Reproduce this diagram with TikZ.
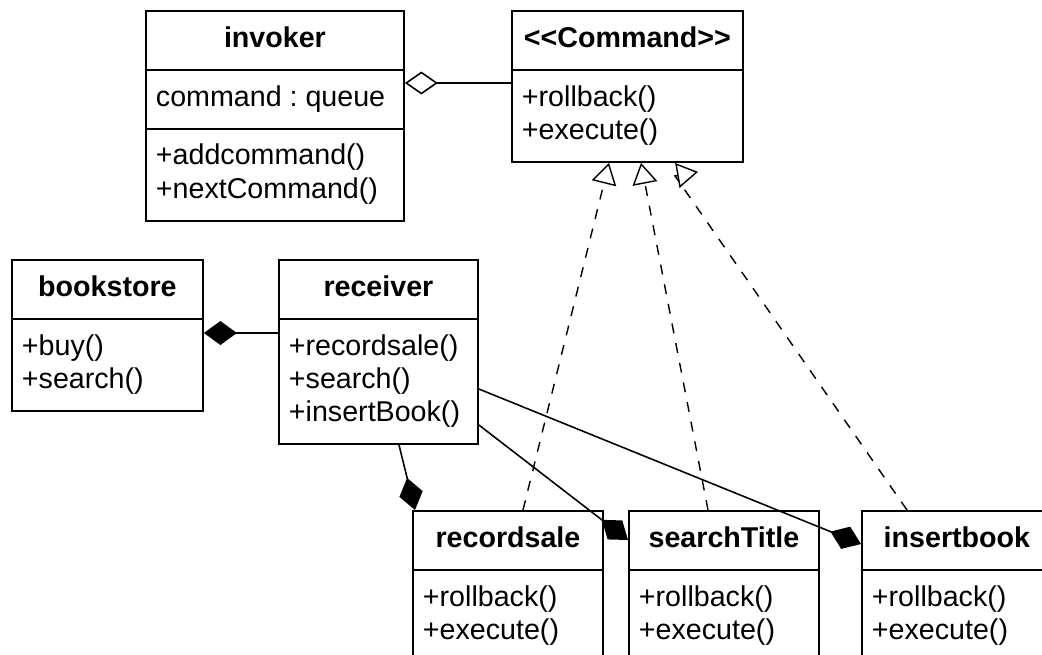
\documentclass[tikz,border=0pt]{standalone}
\usepackage{fontspec}
\setmainfont{Liberation Sans}
\frenchspacing
\usetikzlibrary{shapes.multipart,arrows.meta,calc}

\begin{document}
\begin{tikzpicture}[x=0.02cm, y=-0.02cm,
    cls/.style={rectangle split, rectangle split parts=2, draw, line width=1.1pt,
        align=left, anchor=north west, inner xsep=0.2cm, inner ysep=0.24cm,
        font=\fontsize{16.3}{18.8}\selectfont,
        rectangle split part align={center,left}},
    comp/.style={line width=0.9pt, -{Diamond[length=0.66cm, width=0.48cm]}},
    agg/.style={line width=0.9pt, -{Diamond[open, length=0.66cm, width=0.46cm]}},
    real/.style={line width=0.8pt, dash pattern=on 0.2cm off 0.2cm,
        -{Triangle[open, length=0.42cm, width=0.5cm]}}
]
    \clip (0,0) rectangle (1042,654);

    % Invoker and command interface
    \node[cls, minimum width=5.16cm, rectangle split parts=3,
        rectangle split part align={center,left,left}] (invoker) at (145,10)
        {\strut\textbf{invoker}\nodepart{two}\strut command : queue
         \nodepart{three}\strut +addcommand()\\\strut +nextCommand()};
    \node[cls, minimum width=4.62cm] (command) at (511,10)
        {\strut\textbf{<\kern0pt<Command>\kern0pt>}\nodepart{two}\strut +rollback()\\\strut +execute()};

    % Client and receiver
    \node[cls, minimum width=3.82cm] (bookstore) at (11,259)
        {\strut\textbf{bookstore}\nodepart{two}\strut +buy()\\\strut +search()};
    \node[cls, minimum width=3.98cm] (receiver) at (278,259)
        {\strut\textbf{receiver}\nodepart{two}\strut +recordsale()\\\strut +search()\\\strut +insertBook()};

    % Concrete commands
    \node[cls, minimum width=3.8cm] (recordsale) at (412,510)
        {\strut\textbf{recordsale}\nodepart{two}\strut +rollback()\\\strut +execute()};
    \node[cls, minimum width=3.8cm] (searchtitle) at (628,510)
        {\strut\textbf{searchTitle}\nodepart{two}\strut +rollback()\\\strut +execute()};
    \node[cls, minimum width=3.8cm] (insertbook) at (861,510)
        {\strut\textbf{insertbook}\nodepart{two}\strut +rollback()\\\strut +execute()};

    % Aggregation
    \coordinate (cmdport) at ($(command.north west)+(0,73)$);
    \draw[agg] (cmdport) -- (cmdport -| invoker.east);

    % Compositions
    \coordinate (bsport) at ($(bookstore.north east)+(0,74)$);
    \draw[comp] (bsport -| receiver.west) -- (bsport);
    \draw[comp] ($(receiver.south west)+(121,0)$) -- ($(recordsale.north west)+(3,0)$);
    \draw[comp] ($(receiver.north east)+(0,166)$) -- ($(searchtitle.north west)+(0,30)$);
    \draw[comp] ($(receiver.north east)+(0,130)$) -- ($(insertbook.north west)+(0,34)$);

    % Realizations
    \draw[real] ($(recordsale.north west)+(111,0)$) -- ($(command.south west)+(98,0)$);
    \draw[real] ($(searchtitle.north west)+(80,0)$) -- ($(command.south west)+(130,0)$);
    \draw[real] ($(insertbook.north west)+(46,0)$) -- ($(command.south west)+(164,13)$) -- ++(23,-4);
\end{tikzpicture}
\end{document}
